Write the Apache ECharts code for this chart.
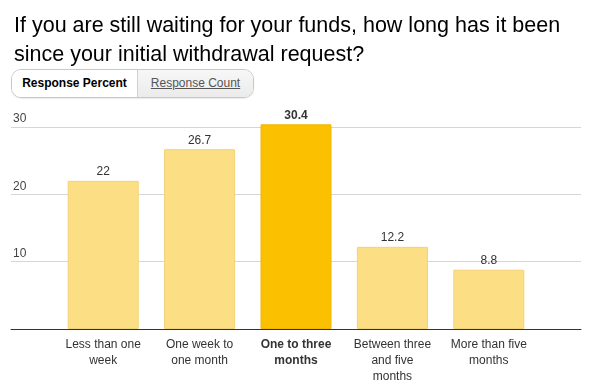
<!DOCTYPE html>
<html><head><meta charset="utf-8">
<script src="https://cdn.jsdelivr.net/npm/echarts@6/dist/echarts.min.js"></script>
<style>
html,body{margin:0;padding:0;background:#fff;}
#c{width:593px;height:385px;position:relative;}
#btn{position:absolute;left:11px;top:69px;width:241px;height:27px;border:1px solid #c8c8c8;border-radius:10px;overflow:hidden;font-family:"Liberation Sans",Arial,sans-serif;font-size:12px;display:flex;box-shadow:0 1px 1px rgba(0,0,0,0.08);}
#btn .a{width:125px;background:#fff;color:#000;font-weight:bold;line-height:27px;text-align:center;border-right:1px solid #d0d0d0;}
#btn .b{flex:1;background:linear-gradient(#f7f7f7,#ebebeb);color:#555;text-decoration:underline;line-height:27px;text-align:center;}
</style></head>
<body>
<div id="c"></div>
<script>
const titleLines = ["If you are still waiting for your funds, how long has it been", "since your initial withdrawal request?"];
const categories = ["Less than one\nweek", "One week to\none month", "One to three\nmonths", "Between three\nand five\nmonths", "More than five\nmonths"];
const values = [22, 26.7, 30.4, 12.2, 8.8];
const highlightIndex = 2;
const yTicks = [0, 10, 20, 30];
const buttons = ["Response Percent", "Response Count"];

const chart = echarts.init(document.getElementById('c'));
const font = '"Liberation Sans", Arial, sans-serif';
chart.setOption({
  animation: false,
  title: {
    text: titleLines.join('\n'), left: 9, top: 7,
    textStyle: {fontFamily: font, fontSize: 21.5, fontWeight: 'normal', color: '#000', lineHeight: 28.5}
  },
  grid: [
    {left: 11, right: 12, top: 127, bottom: 56},
    {left: 55, right: 56, top: 127, bottom: 56}
  ],
  xAxis: [
    {gridIndex: 0, type: 'category', data: [''], axisLine: {lineStyle: {color: '#333', width: 1}}, axisTick: {show: false}, axisLabel: {show: false}},
    {gridIndex: 1, type: 'category', data: categories, axisLine: {show: false}, axisTick: {show: false},
     axisLabel: {interval: 0, margin: 8, fontFamily: font, fontSize: 12, color: '#333', lineHeight: 16,
       formatter: function (v, i) { return i === highlightIndex ? '{b|' + v.split('\n').join('}\n{b|') + '}' : v; },
       rich: {b: {fontWeight: 'bold', fontFamily: font, fontSize: 12, color: '#333', lineHeight: 16}}}}
  ],
  yAxis: [
    {gridIndex: 0, type: 'value', min: yTicks[0], max: yTicks[yTicks.length - 1], interval: 10,
     axisLine: {show: false}, axisTick: {show: false},
     splitLine: {lineStyle: {color: '#d6d6d6'}},
     axisLabel: {inside: true, verticalAlign: 'bottom', margin: 2, padding: [0, 0, 2, 0], fontFamily: font, fontSize: 12, color: '#444',
       formatter: function (v) { return v === 0 ? '' : v; }}},
    {gridIndex: 1, type: 'value', min: yTicks[0], max: yTicks[yTicks.length - 1], show: false}
  ],
  series: [{
    type: 'bar', xAxisIndex: 1, yAxisIndex: 1, barWidth: 71, clip: false,
    data: values.map((v, i) => ({
      value: v,
      itemStyle: i === highlightIndex ? {color: '#fbc100', borderColor: '#f2b600', borderWidth: 1}
                                      : {color: '#fcdf84', borderColor: '#f3d278', borderWidth: 1},
      label: i === highlightIndex ? {fontWeight: 'bold'} : {}
    })),
    label: {show: true, position: 'top', distance: 3, fontFamily: font, fontSize: 12, color: '#333'}
  }]
});
</script>
<script>
(function(){
  const b = document.createElement('div'); b.id = 'btn';
  b.innerHTML = '<div class="a">' + buttons[0] + '</div><div class="b">' + buttons[1] + '</div>';
  document.getElementById('c').appendChild(b);
})();
</script>
</body></html>
